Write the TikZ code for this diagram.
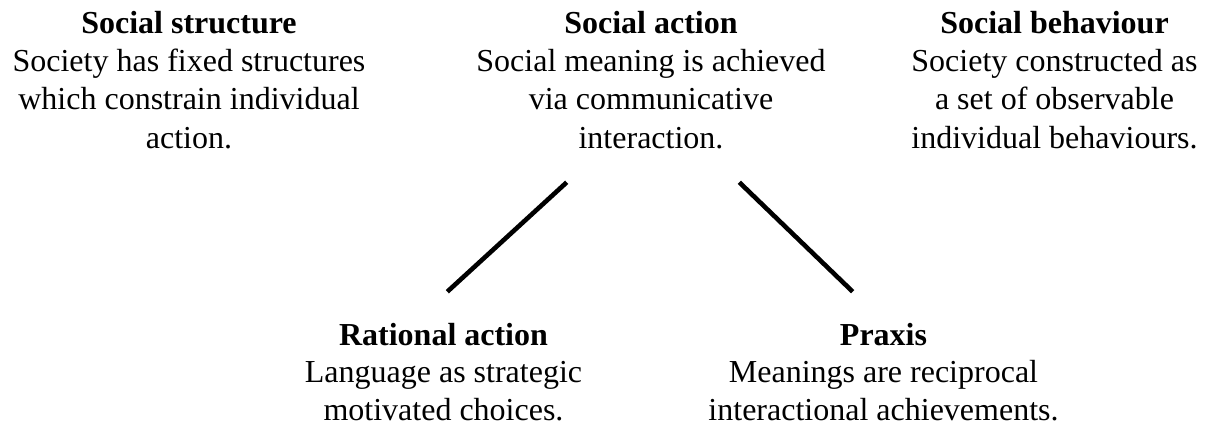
\documentclass[tikz,border=0pt]{standalone}
\usepackage{fontspec}
\setmainfont{Liberation Serif}
\begin{document}
\begin{tikzpicture}[x=1pt,y=-1pt,
  block/.style={align=center,anchor=base,inner sep=0pt,
    font=\fontsize{32}{38.3}\selectfont},
  lowblock/.style={block,font=\fontsize{32}{37.5}\selectfont},
  link/.style={line width=4.6pt,black}]
\useasboundingbox (0,0) rectangle (1209,426);
% anchor=base sits on the baseline of each block's last line
\node[block] (structure) at (189,148) {\textbf{Social structure}\\Society has fixed structures\\which constrain individual\\action.};
\node[block] (action) at (651,148) {\textbf{Social action}\\Social meaning is achieved\\via communicative\\interaction.};
\node[block] (behaviour) at (1054.5,148) {\textbf{Social behaviour}\\Society constructed as\\a set of observable\\individual behaviours.};
\node[lowblock] (rational) at (443.5,420) {\textbf{Rational action}\\Language as strategic\\motivated choices.};
\node[lowblock] (praxis) at (883.5,420) {\textbf{Praxis}\\Meanings are reciprocal\\interactional achievements.};
\coordinate (actL) at (566.7,182.3);
\coordinate (ratT) at (447.3,291.7);
\coordinate (actR) at (739.3,182.3);
\coordinate (praT) at (852.7,291.7);
\draw[link] (actL) -- (ratT);
\draw[link] (actR) -- (praT);
\end{tikzpicture}
\end{document}
